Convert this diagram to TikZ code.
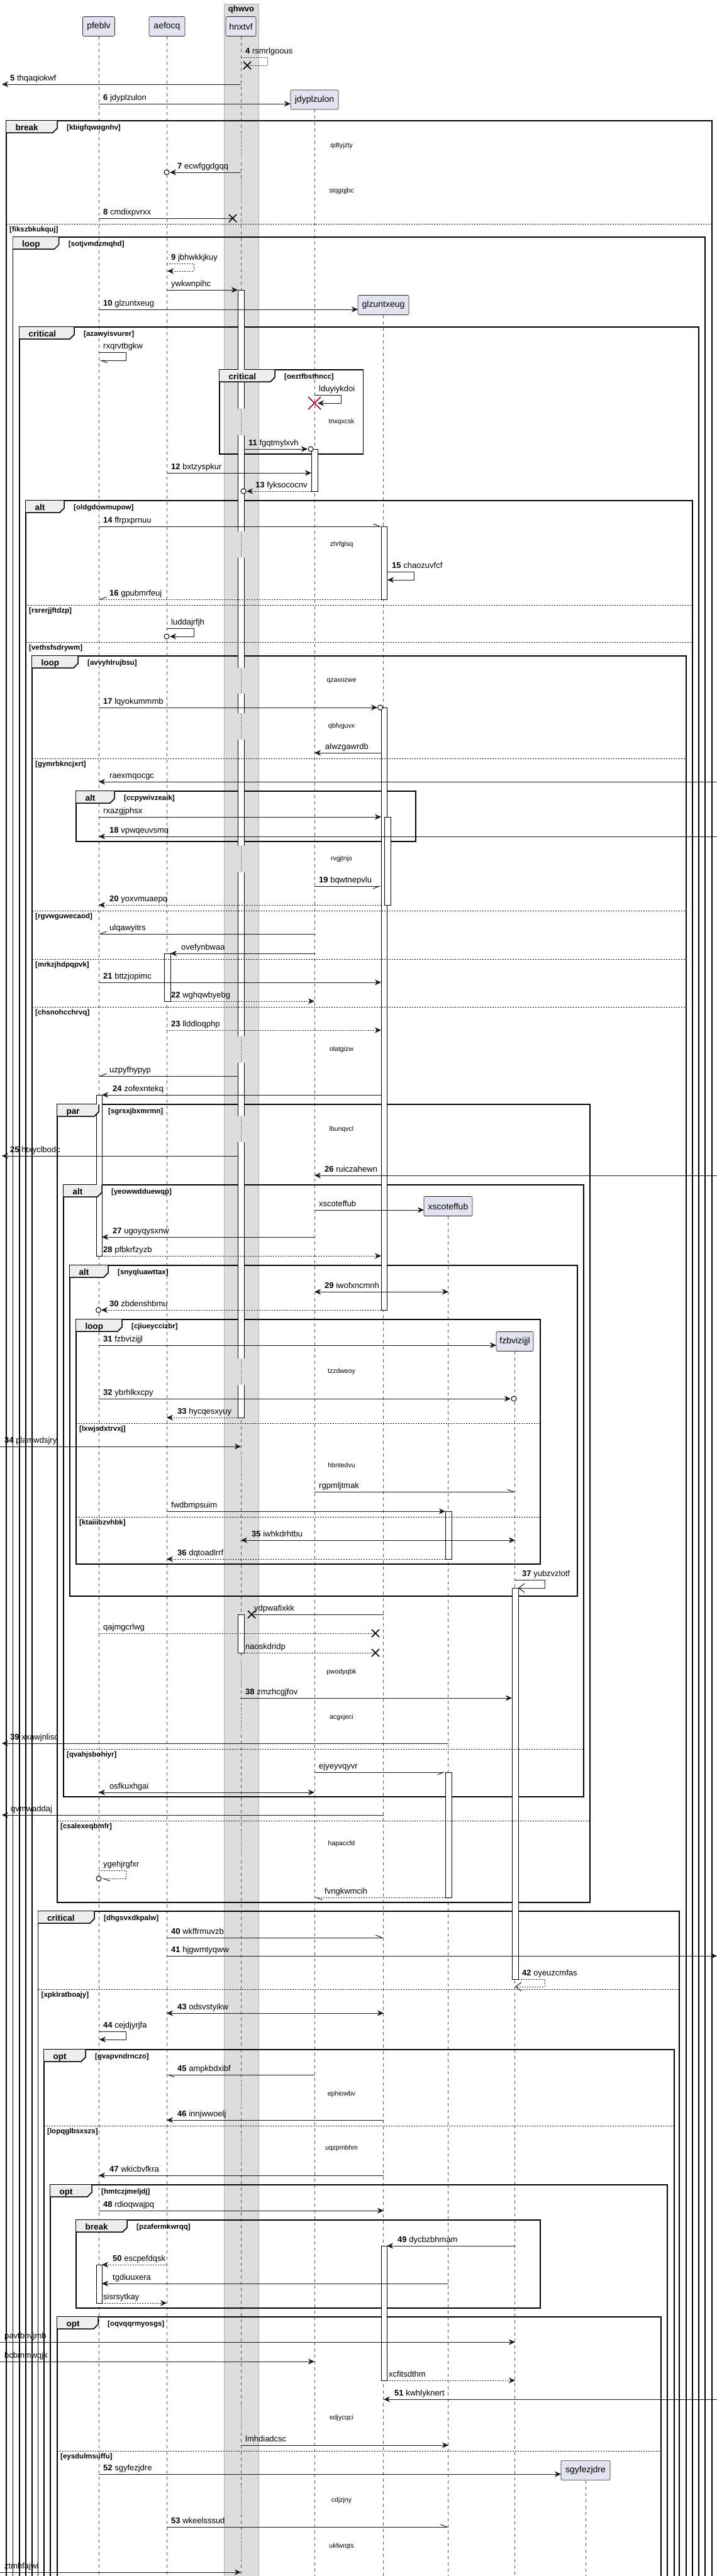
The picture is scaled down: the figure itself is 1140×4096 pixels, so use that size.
\documentclass[tikz,border=0pt]{standalone}
\usepackage{fontspec}
\setmainfont{Liberation Sans}
\usetikzlibrary{arrows.meta}
\definecolor{partfill}{HTML}{E2E2F0}
\definecolor{grpfill}{HTML}{DDDDDD}
\definecolor{delayred}{HTML}{A80036}
\definecolor{tabfill}{HTML}{EEEEEE}
\definecolor{lifegray}{HTML}{555555}
\newcounter{msgc}
\newcounter{tabc}
\tikzset{
  msgline/.style={line width=1pt, draw=black!90},
  dsh/.style={dash pattern=on 2pt off 2pt},
  st/.style={-{Stealth[length=10pt,width=9pt,inset=3pt]}},
  stb/.style={{Stealth[length=10pt,width=9pt,inset=3pt]}-{Stealth[length=10pt,width=9pt,inset=3pt]}},
  hlft/.style={-{Straight Barb[harpoon,length=10pt,width=8pt]}},
  hrgt/.style={-{Straight Barb[harpoon,swap,length=10pt,width=8pt]}},
  opn/.style={-{Straight Barb[length=9pt,width=14pt]}},
  lbl/.style={anchor=base west, inner sep=0pt, font=\fontsize{13}{15}\selectfont},
  part/.style={draw=black!85, fill=partfill, rounded corners=2pt, line width=0.6pt, minimum height=31pt, inner sep=0pt, font=\fontsize{14}{16}\selectfont},
  lifeline/.style={draw=lifegray, line width=0.6pt, dash pattern=on 5pt off 5pt},
  actbar/.style={draw=black, fill=white, line width=0.8pt},
  frm/.style={draw=black, line width=1.5pt},
  divl/.style={draw=black, line width=1pt, dash pattern=on 2pt off 2pt},
  tablbl/.style={anchor=base west, inner sep=0pt, font=\fontsize{13.5}{15}\selectfont\bfseries},
  grd/.style={anchor=base west, inner sep=0pt, font=\fontsize{11.5}{13}\selectfont\bfseries},
  dly/.style={inner sep=0pt, font=\fontsize{10.5}{12}\selectfont},
  circ/.style={draw=black, line width=1pt, fill=white},
}
% message: x1, x2, y, style, label x, text
\newcommand\sqMsg[6]{%
  \stepcounter{msgc}\edef\mnum{\arabic{msgc}}%
  \coordinate (s\mnum) at (#1,#3);
  \coordinate (e\mnum) at (#2,#3);
  \draw[msgline,#4] (s\mnum) -- (e\mnum);
  \node[lbl] (l\mnum) at (#5,#3-6) {#6};}
% self message: xs, xr, y1, y2, xe, style, label x, text
\newcommand\sqSelf[8]{%
  \stepcounter{msgc}\edef\mnum{\arabic{msgc}}%
  \coordinate (s\mnum) at (#1,#3);
  \coordinate (e\mnum) at (#5,#4);
  \draw[msgline,#6] (s\mnum) -- (#2,#3) -- (#2,#4) -- (e\mnum);
  \node[lbl] (l\mnum) at (#7,#3-6) {#8};}
\newcommand\sqCirc[2]{\draw[circ] (#1,#2) circle (4pt);}
\newcommand\sqX[4]{\draw[#4, line width=1.5pt] (#1-#3,#2-#3) -- (#1+#3,#2+#3) (#1-#3,#2+#3) -- (#1+#3,#2-#3);}
\newcommand\sqFrm[4]{\draw[frm] (#1,#3) rectangle (#2,#4);}
% tab: x0, top, xt, name, guard
\newcommand\sqTab[5]{%
  \stepcounter{tabc}\edef\tnum{\arabic{tabc}}%
  \fill[tabfill] (#1,#2) -- (#3,#2) -- (#3,#2+12) -- (#3-7,#2+19) -- (#1,#2+19) -- cycle;
  \draw[line width=1.5pt] (#3,#2) -- (#3,#2+12) -- (#3-7,#2+19) -- (#1,#2+19);
  \node[tablbl] (tn\tnum) at (#1+14.5,#2+15) {#4};
  \node[grd] (tg\tnum) at (#3+15,#2+14.5) {#5};}
% else: x0, x1, y, text
\newcommand\sqElse[4]{%
  \stepcounter{tabc}\edef\tnum{\arabic{tabc}}%
  \draw[divl] (#1,#3) -- (#2,#3);
  \node[grd] (eg\tnum) at (#1+5,#3+12.5) {#4};}
% delay: y0, y1, text, lifeline list macro
\newcommand\sqDly[4]{%
  \stepcounter{tabc}\edef\tnum{\arabic{tabc}}%
  \foreach \lx in #4 {\fill[white] (\lx-14,#1) rectangle (\lx+14,#2); \draw[delayred,line width=0.8pt,dotted] (\lx,#1) -- (\lx,#2);}
  \fill[grpfill] (369,#1) rectangle (397,#2);
  \draw[delayred,line width=0.8pt,dotted] (383,#1) -- (383,#2);
  \node[dly] (dl\tnum) at (543,{(#1+#2)/2}) {#3};}
\def\lifesA{{157,265,500}}
\def\lifesB{{157,265,500,610}}
\def\lifesC{{157,265,500,610,713,819}}
\def\lifesD{{157,265,500,610,713,819,931}}
\begin{document}
\begin{tikzpicture}[x=1pt,y=-1pt]
\useasboundingbox (0,0) rectangle (1140,4096);
\fill[white] (0,0) rectangle (1140,4096);
% group box
\draw[draw=gray!60, fill=grpfill] (356,6) rectangle (411.5,4110);
\node[font=\fontsize{13}{15}\selectfont\bfseries, inner sep=0pt] (grp) at (383.5,15) {qhwvo};
% participants
\node[part, minimum width=51pt] (pP) at (157,42) {pfeblv};
\node[part, minimum width=57pt] (pA) at (265.5,42) {aefocq};
\node[part, minimum width=48pt] (pH) at (383,42) {hnxtvf};
\node[part, minimum width=76pt] (pJ) at (500,158.5) {jdyplzulon};
\node[part, minimum width=81pt] (pG) at (609.5,485) {glzuntxeug};
\node[part, minimum width=77pt] (pX) at (712.5,1918) {xscoteffub};
\node[part, minimum width=59pt] (pF) at (818.5,2133) {fzbvizijjl};
\node[part, minimum width=78pt] (pS) at (931,3928) {sgyfezjdre};
% lifelines
\coordinate (ePz) at (157,4100); \coordinate (eAz) at (265.5,4100); \coordinate (eHz) at (383,4100);
\coordinate (eJz) at (500,4100); \coordinate (eGz) at (609.5,4100); \coordinate (eXz) at (712.5,4100);
\coordinate (eFz) at (818.5,4100); \coordinate (eSz) at (931,4100);
\draw[lifeline] (pP.south) -- (ePz);
\draw[lifeline] (pA.south) -- (eAz);
\draw[lifeline] (pH.south) -- (eHz);
\draw[lifeline] (pJ.south) -- (eJz);
\draw[lifeline] (pG.south) -- (eGz);
\draw[lifeline] (pX.south) -- (eXz);
\draw[lifeline] (pF.south) -- (eFz);
\draw[lifeline] (pS.south) -- (eSz);
% frames
\sqFrm{10}{1132}{192}{4110}
\sqFrm{20.5}{1121}{377}{4110}
\sqFrm{31}{1111}{520}{4110}
\sqFrm{349}{577.5}{588}{722}
\sqFrm{41}{1101}{796}{4110}
\sqFrm{51}{1091}{1043}{4110}
\sqFrm{121}{661}{1258}{1338}
\sqFrm{91}{938}{1756}{3025}
\sqFrm{101}{928}{1884}{2857}
\sqFrm{111}{918}{2012}{2538}
\sqFrm{121}{859}{2098}{2487}
\sqFrm{60.5}{1080}{3039}{4110}
\sqFrm{70}{1072}{3259}{4110}
\sqFrm{80}{1061}{3474}{4110}
\sqFrm{121}{859}{3530}{3670}
\sqFrm{91}{1051}{3684}{4110}
% activation bars
\draw[actbar] (378,461) rectangle (388,2254);
\draw[actbar] (378,2567) rectangle (388,2628);
\draw[actbar] (495,714) rectangle (505,781);
\draw[actbar] (606,837) rectangle (615,953);
\draw[actbar] (606,1125) rectangle (615,2083);
\draw[actbar] (611,1299) rectangle (621,1439);
\draw[actbar] (606,3571) rectangle (615,3785);
\draw[actbar] (261,1516) rectangle (271,1592);
\draw[actbar] (153,1741) rectangle (162,1997);
\draw[actbar] (153,3601) rectangle (162,3662);
\draw[actbar] (708,2403) rectangle (718,2479);
\draw[actbar] (708,2818) rectangle (718,3017);
\draw[actbar] (814,2525) rectangle (824,3147);
% delays
\sqDly{211}{253}{qdtyjzty}{\lifesA}
\sqDly{283}{325}{stqgqjbc}{\lifesA}
\sqDly{650}{692}{tnxqxcsk}{\lifesB}
\sqDly{845}{887}{zhrfglsq}{\lifesB}
\sqDly{1062}{1103}{qzaxozwe}{\lifesB}
\sqDly{1134}{1176}{qbfvguvx}{\lifesB}
\sqDly{1345}{1387}{rvgjtnjo}{\lifesB}
\sqDly{1648}{1690}{olatgizw}{\lifesB}
\sqDly{1775}{1816}{lbunqvcl}{\lifesB}
\sqDly{2160}{2202}{tzzdweoy}{\lifesC}
\sqDly{2309}{2351}{hbntedvu}{\lifesC}
\sqDly{2638}{2680}{pwodyqbk}{\lifesC}
\sqDly{2710}{2752}{acgxjeci}{\lifesC}
\sqDly{2911}{2953}{hapaccfd}{\lifesC}
\sqDly{3309}{3351}{ephiowbv}{\lifesC}
\sqDly{3395}{3437}{uqzpmbhm}{\lifesC}
\sqDly{3824}{3866}{edjycqci}{\lifesC}
\sqDly{3955}{3997}{cdjzjny}{\lifesD}
\sqDly{4028}{4070}{ukfwrqts}{\lifesD}
% messages
\sqSelf{383}{425}{91}{104}{393}{dsh}{390}{\textbf{4} rsmrlgoous}
\sqX{393}{104}{6}{black}
\sqMsg{383}{3}{134}{st}{16}{\textbf{5} thqaqiokwf}
\sqMsg{157}{462}{165}{st}{164}{\textbf{6} jdyplzulon}
\sqMsg{383}{270}{274}{st}{282}{\textbf{7} ecwfggdgqq}
\sqCirc{265}{274}
\sqMsg{157}{370}{347}{}{164}{\textbf{8} cmdixpvrxx}
\sqX{370}{347}{6}{black}
\sqSelf{265}{308}{419}{431}{266}{dsh,st}{272}{\textbf{9} jbhwkkjkuy}
\sqMsg{265}{378}{461}{st}{272}{ywkwnpihc}
\sqMsg{157}{569}{492}{st}{164}{\textbf{10} glzuntxeug}
\sqSelf{157}{200}{560}{573}{158}{hlft}{164}{rxqrvtbgkw}
\sqSelf{500}{542}{628}{641}{505}{st}{507}{lduyiykdoi}
\sqX{500}{641}{10}{delayred}
\sqMsg{388}{489}{714}{st}{395}{\textbf{11} fgqtmylxvh}
\sqCirc{494}{714}
\sqMsg{265}{495}{752}{st}{272}{\textbf{12} bxtzyspkur}
\sqMsg{495}{392}{781}{dsh,st}{406}{\textbf{13} fyksococnv}
\sqCirc{387}{781}
\sqMsg{157}{606}{837}{hlft}{164}{\textbf{14} ffrpxprnuu}
\sqSelf{615}{658}{909}{922}{616}{st}{623}{\textbf{15} chaozuvfcf}
\sqMsg{606}{157}{953}{dsh,hrgt}{174}{\textbf{16} gpubmrfeuj}
\sqSelf{265}{308}{999}{1012}{270}{st}{272}{luddajrfjh}
\sqCirc{265}{1012}
\sqMsg{157}{600}{1125}{st}{164}{\textbf{17} lqyokummmb}
\sqCirc{604.5}{1125}
\sqMsg{606}{500}{1197}{st}{517}{alwzgawrdb}
\sqMsg{1140}{157}{1243}{st}{174}{raexmqocgc}
\sqMsg{157}{606}{1299}{st}{164}{rxazgjphsx}
\sqMsg{1140}{157}{1330}{st}{174}{\textbf{18} vpwqeuvsmq}
\sqMsg{500}{606}{1409}{hrgt}{507}{\textbf{19} bqwtnepvlu}
\sqMsg{606}{157}{1439}{dsh,st}{174}{\textbf{20} yoxvmuaepq}
\sqMsg{500}{157}{1485}{hrgt}{174}{ulqawyitrs}
\sqMsg{500}{271}{1516}{st}{288}{ovefynbwaa}
\sqMsg{157}{606}{1562}{st}{164}{\textbf{21} bttzjopimc}
\sqMsg{271}{500}{1592}{dsh,st}{272}{\textbf{22} wghqwbyebg}
\sqMsg{265}{606}{1638}{dsh,st}{272}{\textbf{23} llddloqphp}
\sqMsg{378}{157}{1711}{hrgt}{174}{uzpyfhypyp}
\sqMsg{606}{162}{1741}{st}{179}{\textbf{24} zofexntekq}
\sqMsg{378}{3}{1838}{st}{16}{\textbf{25} htxyclbodc}
\sqMsg{1140}{500}{1869}{st}{516}{\textbf{26} ruiczahewn}
\sqMsg{500}{674}{1924}{st}{507}{xscoteffub}
\sqMsg{500}{162}{1967}{st}{179}{\textbf{27} ugoyqysxnw}
\sqMsg{162}{606}{1997}{dsh,st}{164}{\textbf{28} pfbkrfzyzb}
\sqMsg{500}{713}{2054}{stb}{516}{\textbf{29} iwofxncmnh}
\sqMsg{606}{161}{2083}{dsh,st}{174}{\textbf{30} zbdenshbmu}
\sqCirc{156.5}{2083}
\sqMsg{157}{789}{2139}{st}{164}{\textbf{31} fzbvizijjl}
\sqMsg{157}{812}{2224}{st}{164}{\textbf{32} ybrhlkxcpy}
\sqCirc{817}{2224}
\sqMsg{378}{265}{2254}{dsh,st}{282}{\textbf{33} hycqesxyuy}
\sqMsg{0}{383}{2300}{st}{7}{\textbf{34} plamwdsjry}
\sqMsg{500}{819}{2372}{hlft}{507}{rgpmljtmak}
\sqMsg{265}{708}{2403}{st}{272}{fwdbmpsuim}
\sqMsg{383}{819}{2449}{stb}{400}{\textbf{35} iwhkdrhtbu}
\sqMsg{708}{265}{2479}{dsh,st}{282}{\textbf{36} dqtoadlrrf}
\sqSelf{819}{866}{2512}{2525}{824}{opn}{830}{\textbf{37} yubzvzlotf}
\sqMsg{610}{400}{2567}{}{404}{ydpwafixkk}
\sqX{400}{2567}{6}{black}
\sqMsg{157}{597}{2597}{dsh}{164}{qajmgcrlwg}
\sqX{597}{2597}{6}{black}
\sqMsg{388}{597}{2628}{dsh}{390}{naoskdridp}
\sqX{597}{2628}{6}{black}
\sqMsg{383}{814}{2700}{st}{390}{\textbf{38} zmzhcgjfov}
\sqMsg{713}{3}{2772}{st}{16}{\textbf{39} xxawjnlisc}
\sqMsg{500}{708}{2818}{hrgt}{507}{ejyeyvqyvr}
\sqMsg{157}{500}{2850}{stb}{174}{osfkuxhgai}
\sqMsg{610}{3}{2886}{st}{17}{qvmwaddaj}
\sqSelf{157}{200}{2974}{2987}{162}{dsh,hlft}{164}{ygehjrgfxr}
\sqCirc{157}{2987}
\sqMsg{708}{500}{3017}{dsh,hlft}{516}{fvngkwmcih}
\sqMsg{265}{610}{3081}{hlft}{272}{\textbf{40} wkffrmuvzb}
\sqMsg{265}{1140}{3110}{st}{272}{\textbf{41} hjgwmtyqww}
\sqSelf{824}{866}{3147}{3159}{819}{dsh,opn}{830}{\textbf{42} oyeuzcmfas}
\sqMsg{265}{610}{3201}{stb}{282}{\textbf{43} odsvstyikw}
\sqSelf{157}{200}{3230}{3243}{158}{st}{164}{\textbf{44} cejdjyrjfa}
\sqMsg{500}{265}{3299}{hlft}{282}{\textbf{45} ampkbdxibf}
\sqMsg{610}{265}{3371}{st}{282}{\textbf{46} innjwwoelj}
\sqMsg{610}{157}{3459}{st}{174}{\textbf{47} wkicbvfkra}
\sqMsg{157}{610}{3515}{st}{164}{\textbf{48} rdioqwajpq}
\sqMsg{819}{615}{3571}{st}{632}{\textbf{49} dycbzbhmam}
\sqMsg{265}{162}{3601}{dsh,st}{179}{\textbf{50} escpefdqsk}
\sqMsg{713}{162}{3631}{st}{179}{tgdiuuxera}
\sqMsg{162}{265}{3662}{dsh,st}{164}{sisrsytkay}
\sqMsg{0}{819}{3724}{st}{7}{pavtbnvjmb}
\sqMsg{0}{500}{3755}{st}{7}{bcbmmwqjk}
\sqMsg{615}{819}{3785}{dsh,st}{618}{xcfitsdthm}
\sqMsg{1140}{610}{3815}{st}{627}{\textbf{51} kwhlyknert}
\sqMsg{383}{713}{3888}{st}{390}{lmhdiadcsc}
\sqMsg{157}{892}{3934}{st}{164}{\textbf{52} sgyfezjdre}
\sqMsg{265}{713}{4018}{hlft}{272}{\textbf{53} wkeelsssud}
\sqMsg{0}{383}{4090}{st}{7}{ztmhfajwi}
% else dividers
\sqElse{10}{1132}{356}{[fikszbkukquj]}
\sqElse{41}{1101}{962}{[rsrerjjftdzp]}
\sqElse{41}{1101}{1021}{[vethsfsdrywm]}
\sqElse{51}{1091}{1206}{[gymrbkncjxrt]}
\sqElse{51}{1091}{1448}{[rgvwguwecaod]}
\sqElse{51}{1091}{1525}{[mrkzjhdpqpvk]}
\sqElse{51}{1091}{1601}{[chsnohcchrvq]}
\sqElse{121}{859}{2263}{[lxwjsdxtrvxj]}
\sqElse{121}{859}{2412}{[ktaiiibzvhbk]}
\sqElse{101}{928}{2781}{[qvahjsbohiyr]}
\sqElse{91}{938}{2895}{[csalexeqbmfr]}
\sqElse{60.5}{1080}{3163}{[xpklratboajy]}
\sqElse{70}{1072}{3380}{[lopqglbsxszs]}
\sqElse{91}{1051}{3897}{[eysdulmsuffu]}
% tabs
\sqTab{10}{192}{91}{break}{[kbigfqwugnhv]}
\sqTab{20.5}{377}{93.6}{loop}{[sotjvmdzmqhd]}
\sqTab{31}{520}{118}{critical}{[azawyisvurer]}
\sqTab{349}{588}{437}{critical}{[oeztfbsthncc]}
\sqTab{41}{796}{102}{alt}{[oldgdowmupow]}
\sqTab{51}{1043}{124}{loop}{[avvyhlrujbsu]}
\sqTab{121}{1258}{182}{alt}{[ccpywivzeaik]}
\sqTab{91}{1756}{157}{par}{[sgrsxjbxmrmn]}
\sqTab{101}{1884}{162}{alt}{[yeowwdduewqp]}
\sqTab{111}{2012}{172}{alt}{[snyqluawttax]}
\sqTab{121}{2098}{194}{loop}{[cjiueyccizbr]}
\sqTab{60.5}{3039}{150}{critical}{[dhgsvxdkpalw]}
\sqTab{70}{3259}{136}{opt}{[gvapvndrnczo]}
\sqTab{80}{3474}{146}{opt}{[hmtczjmeljdj]}
\sqTab{121}{3530}{202}{break}{[pzafermkwrqq]}
\sqTab{91}{3684}{156}{opt}{[oqvqqrmyosgs]}
\end{tikzpicture}
\end{document}
